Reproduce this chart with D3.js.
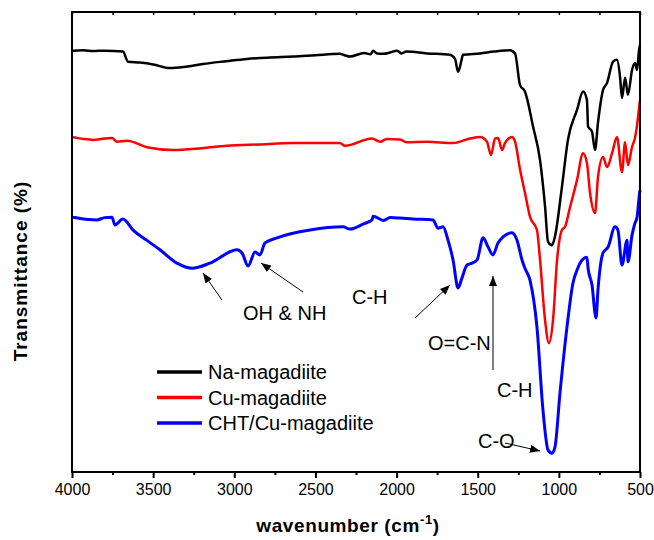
<!DOCTYPE html>
<html>
<head>
<meta charset="utf-8">
<script src="https://cdn.jsdelivr.net/npm/d3@7"></script>
<style>
  body { margin: 0; background: #fff; }
  text { font-family: Arial, "Liberation Sans", sans-serif; }
</style>
</head>
<body>
<div id="canvas"></div>
<script>
// wavenumber (cm-1) / transmittance (arbitrary offset %)
const naWn = [3994, 3930, 3871, 3800, 3686, 3655, 3581, 3500, 3396, 3300, 3193, 3050, 2922, 2780, 2638, 2500, 2349, 2320, 2287, 2200, 2160, 2145, 2120, 2080, 2040, 1997, 1970, 1940, 1812, 1671, 1640, 1621, 1600, 1591, 1486, 1400, 1301, 1270, 1239, 1209, 1159, 1116, 1085, 1067, 1042, 1024, 981, 944, 888, 851, 827, 820, 796, 777, 759, 728, 703, 666, 642, 623, 611, 592, 574, 549, 531, 518, 506, 500];
const naT = [91.6, 91.7, 91.5, 91.6, 91.4, 89.2, 89.0, 88.6, 87.8, 88.1, 88.7, 89.3, 89.8, 90.1, 90.3, 90.6, 90.9, 90.6, 90.3, 91.1, 90.8, 91.6, 91.0, 90.9, 91.2, 91.6, 91.0, 91.4, 91.0, 90.7, 89.8, 87.0, 89.5, 90.7, 91.0, 91.4, 91.7, 91.0, 84.1, 82.7, 75.1, 67.8, 57.7, 50.1, 49.3, 51.2, 62.0, 72.2, 78.7, 82.7, 80.9, 75.1, 74.0, 70.0, 75.9, 83.0, 84.6, 89.2, 89.6, 85.9, 81.3, 85.7, 82.0, 87.4, 88.9, 87.4, 91.7, 92.8];

const cuWn = [3994, 3930, 3871, 3800, 3754, 3723, 3661, 3538, 3378, 3200, 3045, 2850, 2638, 2500, 2349, 2318, 2151, 2102, 2060, 1979, 1940, 1812, 1652, 1547, 1486, 1443, 1418, 1393, 1375, 1350, 1332, 1289, 1270, 1239, 1209, 1178, 1135, 1116, 1085, 1061, 1036, 1011, 981, 962, 931, 888, 851, 827, 808, 777, 759, 728, 703, 672, 642, 611, 592, 574, 549, 531, 518, 506, 500];
const cuT = [72.8, 72.4, 72.2, 72.5, 72.6, 71.8, 72.0, 70.6, 70.0, 70.4, 70.9, 71.2, 71.5, 71.5, 71.5, 70.9, 72.5, 71.8, 72.4, 72.3, 71.7, 71.8, 71.5, 72.5, 72.8, 71.8, 68.9, 72.5, 72.6, 70.0, 71.5, 72.8, 71.8, 65.7, 60.7, 55.5, 52.6, 46.1, 33.0, 28.0, 33.0, 46.1, 52.6, 53.3, 57.6, 63.5, 69.3, 67.2, 60.7, 56.3, 64.1, 68.5, 66.3, 69.3, 72.8, 65.2, 71.7, 66.7, 70.7, 72.6, 75.4, 79.1, 80.9];

const chtWn = [3994, 3900, 3846, 3800, 3754, 3735, 3686, 3624, 3540, 3458, 3353, 3260, 3150, 2983, 2952, 2915, 2872, 2842, 2811, 2737, 2533, 2330, 2287, 2200, 2151, 2145, 2080, 2040, 1979, 1900, 1775, 1745, 1714, 1683, 1652, 1621, 1597, 1566, 1535, 1504, 1467, 1436, 1406, 1375, 1344, 1289, 1258, 1227, 1209, 1178, 1135, 1098, 1067, 1042, 1024, 993, 950, 913, 888, 857, 827, 820, 796, 771, 759, 728, 697, 654, 636, 611, 580, 574, 549, 531, 518, 506, 500];
const chtT = [55.4, 54.9, 54.8, 55.3, 55.4, 53.7, 55.0, 52.6, 50.4, 48.3, 45.4, 44.3, 45.4, 48.3, 47.6, 44.8, 47.8, 47.2, 49.8, 50.9, 52.6, 53.3, 52.8, 54.0, 54.8, 55.6, 54.7, 55.3, 55.2, 55.0, 54.8, 53.0, 53.3, 50.4, 46.1, 40.0, 42.2, 45.0, 45.4, 46.1, 50.9, 48.9, 47.2, 49.8, 51.1, 52.0, 50.4, 46.1, 44.3, 41.7, 31.5, 13.5, 4.8, 4.1, 5.4, 17.2, 31.5, 41.1, 43.9, 46.1, 46.7, 44.3, 40.7, 33.5, 39.6, 47.6, 48.9, 53.3, 52.6, 45.0, 50.4, 45.7, 51.5, 54.1, 55.4, 59.6, 61.3];

const seriesNames = ["Na-magadiite", "Cu-magadiite", "CHT/Cu-magadiite"];
const seriesColors = ["#000000", "#ff0000", "#0000ff"];
const xTicks = [4000, 3500, 3000, 2500, 2000, 1500, 1000, 500];

const width = 654;
const height = 540;
const margin = { top: 12, left: 72, bottom: 68, right: 14 };
const iwidth = width - margin.left - margin.right;
const iheight = height - margin.top - margin.bottom;

const svg = d3.select("#canvas").append("svg")
    .attr("width", width)
    .attr("height", height);

const g = svg.append("g").attr("transform", `translate(${margin.left},${margin.top})`);

const x = d3.scaleLinear().domain([4000, 500]).range([0, iwidth]);
const y = d3.scaleLinear().domain([0, 100]).range([iheight, 0]);

const series = [
    { name: seriesNames[0], color: seriesColors[0], wn: naWn, t: naT, w: 2.5 },
    { name: seriesNames[1], color: seriesColors[1], wn: cuWn, t: cuT, w: 2.5 },
    { name: seriesNames[2], color: seriesColors[2], wn: chtWn, t: chtT, w: 3 }
];

const line = d3.line()
    .x(d => x(d[0]))
    .y(d => y(d[1]))
    .curve(d3.curveMonotoneX);

series.forEach(s => {
    g.append("path")
        .datum(s.wn.map((w, i) => [w, s.t[i]]))
        .attr("fill", "none")
        .attr("stroke", s.color)
        .attr("stroke-width", s.w)
        .attr("stroke-linejoin", "round")
        .attr("d", line);
});

// axes
const minor = d3.range(3750, 500, -500);

const xAxis = g.append("g")
    .attr("transform", `translate(0,${iheight})`)
    .call(d3.axisBottom(x).tickValues(xTicks).tickSize(6).tickFormat(d3.format("d")));
xAxis.select(".domain").remove();
xAxis.selectAll("text")
    .style("font-size", "16px")
    .attr("dy", "0.9em")
    .attr("fill", "#000");
xAxis.selectAll("line").attr("stroke-width", 2);

g.append("g")
    .attr("transform", `translate(0,${iheight})`)
    .call(d3.axisBottom(x).tickValues(minor).tickSize(3).tickFormat(""))
    .call(a => a.select(".domain").remove())
    .selectAll("line").attr("stroke-width", 2);

g.append("g")
    .call(d3.axisTop(x).tickValues(xTicks.concat(minor)).tickSizeInner(-3).tickSizeOuter(0).tickFormat(""))
    .call(a => a.select(".domain").remove())
    .selectAll("line").attr("stroke-width", 1.5);

g.append("rect")
    .attr("x", 0).attr("y", 0)
    .attr("width", iwidth).attr("height", iheight)
    .attr("fill", "none")
    .attr("stroke", "#000")
    .attr("stroke-width", 2);

// axis titles
const xt = svg.append("text")
    .attr("x", 348)
    .attr("y", 532)
    .attr("text-anchor", "middle")
    .style("font-size", "19px")
    .style("font-weight", "bold")
    .style("letter-spacing", "0.6px");
xt.append("tspan").text("wavenumber (cm");
xt.append("tspan").attr("dy", -8).style("font-size", "13px").text("-1");
xt.append("tspan").attr("dy", 8).text(")");

svg.append("text")
    .attr("transform", "translate(27,271) rotate(-90)")
    .attr("text-anchor", "middle")
    .style("font-size", "19px")
    .style("font-weight", "bold")
    .style("letter-spacing", "1px")
    .text("Transmittance (%)");

// legend
const legend = svg.append("g").attr("transform", "translate(157,372)");
series.forEach((s, i) => {
    legend.append("line")
        .attr("x1", 0).attr("x2", 45)
        .attr("y1", i * 25.5).attr("y2", i * 25.5)
        .attr("stroke", s.color)
        .attr("stroke-width", 3.5);
    legend.append("text")
        .attr("x", 51).attr("y", i * 25.5)
        .attr("dy", "0.36em")
        .style("font-size", "20px")
        .text(s.name);
});

// annotations
const labels = [
    { t: "OH & NH", x: 243, y: 313 },
    { t: "C-H", x: 352, y: 297 },
    { t: "O=C-N", x: 428, y: 343 },
    { t: "C-H", x: 497, y: 390 },
    { t: "C-O", x: 478, y: 441 }
];
labels.forEach(l => {
    svg.append("text")
        .attr("x", l.x).attr("y", l.y)
        .attr("dy", "0.36em")
        .style("font-size", "20px")
        .text(l.t);
});

svg.append("defs").append("marker")
    .attr("id", "arr")
    .attr("viewBox", "0 0 10 10")
    .attr("refX", 10).attr("refY", 5)
    .attr("markerWidth", 10).attr("markerHeight", 10)
    .attr("markerUnits", "userSpaceOnUse")
    .attr("orient", "auto")
    .append("path")
    .attr("d", "M0,1 L10,5 L0,9 Z")
    .attr("fill", "#000");

const arrows = [
    [222, 300, 203, 273],
    [303, 292, 261, 263],
    [415, 318, 450, 285],
    [493, 370, 493, 276],
    [505, 443, 540, 451]
];
arrows.forEach(a => {
    svg.append("line")
        .attr("x1", a[0]).attr("y1", a[1])
        .attr("x2", a[2]).attr("y2", a[3])
        .attr("stroke", "#000")
        .attr("stroke-width", 1)
        .attr("marker-end", "url(#arr)");
});
</script>
</body>
</html>
